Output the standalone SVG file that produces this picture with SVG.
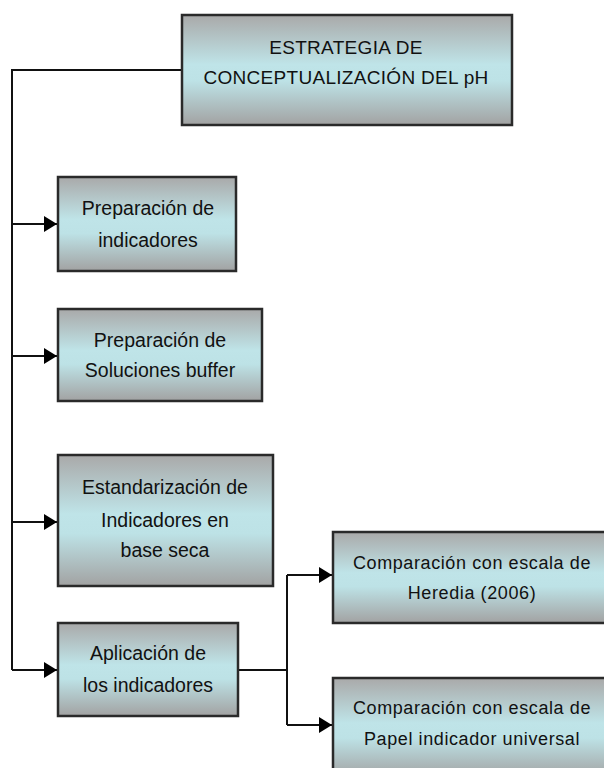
<svg xmlns="http://www.w3.org/2000/svg" width="604" height="768" viewBox="0 0 604 768">
<defs>
<linearGradient id="g" x1="0" y1="0" x2="0" y2="1">
<stop offset="0" stop-color="#a9a9a9"/>
<stop offset="0.45" stop-color="#bfe4e8"/>
<stop offset="0.6" stop-color="#bde2e6"/>
<stop offset="1" stop-color="#a2a2a2"/>
</linearGradient>
<marker id="ah" markerWidth="13" markerHeight="16" refX="13" refY="8" orient="auto" markerUnits="userSpaceOnUse">
<path d="M0,0 L13,8 L0,16 Z" fill="#000"/>
</marker>
</defs>
<style>
.box{fill:url(#g);stroke:#2a2a2a;stroke-width:2.5}
.t{font-family:"Liberation Sans",Arial,sans-serif;font-size:19.5px;fill:#111;text-anchor:middle}
.c{fill:none;stroke:#111;stroke-width:2}
</style>
<rect width="604" height="768" fill="#fff"/>
<g id="connectors">
<path class="c" d="M181,70 H12 V670"/>
<path class="c" d="M12,224 H57" marker-end="url(#ah)"/>
<path class="c" d="M12,356 H57" marker-end="url(#ah)"/>
<path class="c" d="M12,522 H57" marker-end="url(#ah)"/>
<path class="c" d="M12,670 H57" marker-end="url(#ah)"/>
<path class="c" d="M238,670 H287"/>
<path class="c" d="M287,575 V725"/>
<path class="c" d="M287,575 H332" marker-end="url(#ah)"/>
<path class="c" d="M287,725 H332" marker-end="url(#ah)"/>
</g>
<g id="root">
<rect class="box" x="182" y="15" width="330" height="110"/>
<text class="t" x="346" y="54" style="font-size:19px;letter-spacing:0.3px">ESTRATEGIA DE</text>
<text class="t" x="346" y="84" style="font-size:19px;letter-spacing:0.3px">CONCEPTUALIZACIÓN DEL pH</text>
</g>
<g id="n1">
<rect class="box" x="58" y="177" width="178" height="94"/>
<text class="t" x="148" y="215">Preparación de</text>
<text class="t" x="148" y="247">indicadores</text>
</g>
<g id="n2">
<rect class="box" x="58" y="309" width="204" height="92"/>
<text class="t" x="160" y="347">Preparación de</text>
<text class="t" x="160" y="377">Soluciones buffer</text>
</g>
<g id="n3">
<rect class="box" x="58" y="455" width="215" height="131"/>
<text class="t" x="165" y="494">Estandarización de</text>
<text class="t" x="165" y="527">Indicadores en</text>
<text class="t" x="165" y="557">base seca</text>
</g>
<g id="n4">
<rect class="box" x="58" y="623" width="180" height="93"/>
<text class="t" x="148" y="660">Aplicación de</text>
<text class="t" x="148" y="692">los indicadores</text>
</g>
<g id="n5">
<rect class="box" x="333" y="532" width="275" height="91"/>
<text class="t" x="472" y="569" style="font-size:18px;letter-spacing:0.6px">Comparación con escala de</text>
<text class="t" x="472" y="599" style="font-size:18px;letter-spacing:0.6px">Heredia (2006)</text>
</g>
<g id="n6">
<rect class="box" x="333" y="678" width="275" height="100"/>
<text class="t" x="472" y="714" style="font-size:18px;letter-spacing:0.6px">Comparación con escala de</text>
<text class="t" x="472" y="745" style="font-size:18px;letter-spacing:0.6px">Papel indicador universal</text>
</g>
</svg>
